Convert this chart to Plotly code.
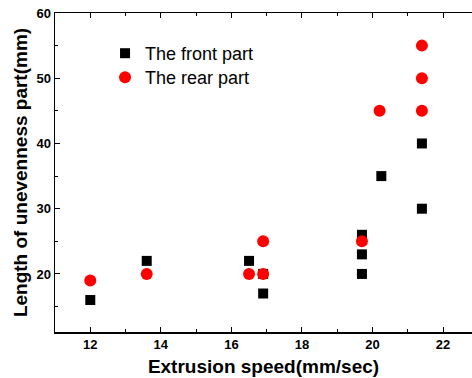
import plotly.graph_objects as go

# Data
front_x = [12.0, 13.6, 16.5, 16.9, 16.9, 19.7, 19.7, 19.7, 20.25, 21.4, 21.4]
front_y = [16, 22, 22, 17, 20, 26, 23, 20, 35, 40, 30]

rear_x = [12.0, 13.6, 16.5, 16.9, 16.9, 19.7, 20.2, 21.4, 21.4, 21.4]
rear_y = [19, 20, 20, 25, 20, 25, 45, 55, 50, 45]

x_ticks = [12, 14, 16, 18, 20, 22]
y_ticks = [20, 30, 40, 50, 60]

FONT = "Liberation Sans, Arial, sans-serif"

fig = go.Figure()
fig.add_trace(go.Scatter(
    x=front_x, y=front_y, mode="markers", name="The front part", legend="legend",
    marker=dict(symbol="square", size=10, color="black", line=dict(width=0)),
))
fig.add_trace(go.Scatter(
    x=rear_x, y=rear_y, mode="markers", name="The rear part", legend="legend2",
    marker=dict(symbol="circle", size=12, color="#ff0000", line=dict(width=0)),
))

axis_common = dict(
    showgrid=False, zeroline=False, showline=True, linecolor="black", linewidth=1.5,
    ticks="inside", ticklen=5, tickwidth=1, tickcolor="black", automargin=False,
    ticklabeloverflow="allow",
    tickfont=dict(family=FONT, size=13, color="black", weight="bold"),
)

legend_common = dict(
    xanchor="left", yanchor="top", bgcolor="rgba(0,0,0,0)",
    font=dict(family=FONT, size=18, color="black"), itemsizing="trace",
)

fig.update_layout(
    width=472, height=378,
    margin=dict(l=55, r=0, t=13, b=46),
    paper_bgcolor="white", plot_bgcolor="white",
    showlegend=True,
    legend=dict(x=0.12, y=0.931, **legend_common),
    legend2=dict(x=0.12, y=0.856, **legend_common),
    xaxis=dict(
        range=[11.0, 22.82], tickvals=x_ticks, mirror="ticks",
        minor=dict(dtick=1, tick0=11, ticks="inside", ticklen=3, tickcolor="black"),
        title=dict(text="Extrusion speed(mm/sec)", standoff=8,
                   font=dict(family=FONT, size=19, color="black", weight="bold")),
        **axis_common,
    ),
    yaxis=dict(
        range=[11.1, 60], tickvals=y_ticks,
        minor=dict(dtick=5, tick0=0, ticks="inside", ticklen=3, tickcolor="black"),
        title=dict(text="Length of unevenness part(mm)", standoff=4,
                   font=dict(family=FONT, size=19, color="black", weight="bold")),
        **axis_common,
    ),
)

# Remove the default 8px page margin so the figure fills the window exactly.
fig.write_html(
    "out.html",
    config={"displayModeBar": False, "staticPlot": True},
    post_script="document.body.style.margin='0';",
)
